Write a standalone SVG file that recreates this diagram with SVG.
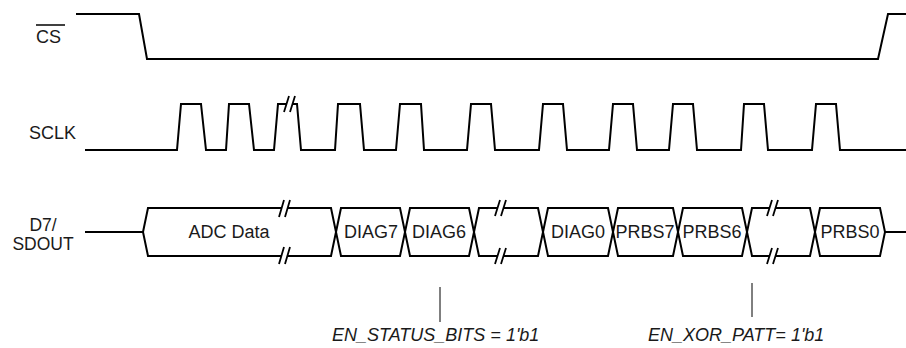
<svg xmlns="http://www.w3.org/2000/svg" width="906" height="348" viewBox="0 0 906 348">
<style>
.sig{fill:none;stroke:#000;stroke-width:2;stroke-linejoin:miter}
.brk{fill:none;stroke:#000;stroke-width:1.8}
.lbl{font-family:"Liberation Sans",Arial,sans-serif;font-size:18px;fill:#1a1a1a}
.box{font-family:"Liberation Sans",Arial,sans-serif;font-size:18px;fill:#1a1a1a;text-anchor:middle}
.sd{font-family:"Liberation Sans",Arial,sans-serif;font-size:17.5px;fill:#1a1a1a;text-anchor:middle}
.ann{font-family:"Liberation Sans",Arial,sans-serif;font-size:18px;font-style:italic;fill:#1a1a1a}
.tick{fill:none;stroke:#000;stroke-width:1}
</style>
<rect width="906" height="348" fill="#fff"/>
<g id="cs">
<text class="lbl" x="36" y="43">CS</text>
<line x1="36" y1="25" x2="65" y2="25" stroke="#000" stroke-width="1.5"/>
<path class="sig" d="M76,14 H139 L147,59 H878 L888,14 H906"/>
</g>
<g id="sclk">
<text class="lbl" x="29" y="139">SCLK</text>
<path class="sig" d="M85,150 H177 L181,104 H201 L206,150 H226 L229,104 H249 L254,150 H274 L278,104 H287 M293,104 H297 L301,150 H335 L338,104 H360 L364,150 H396 L400,104 H421 L424,150 H467 L471,104 H491 L495,150 H539 L543,104 H563 L567,150 H609 L613,104 H633 L637,150 H669 L673,104 H693 L697,150 H741 L744,104 H764 L768,150 H812 L816,104 H836 L840,150 H906"/>
<path class="brk" d="M284,112 L289,96 M290,112 L295,96"/>
</g>
<g id="sdout">
<text class="sd" x="43" y="231">D7/</text>
<text class="sd" x="43" y="250">SDOUT</text>
<path class="sig" d="M85,232 H143 M885,232 H906"/>
</g>
<g id="adc-data">
<path class="sig" d="M282,208 H148 L143,232 L148,256 H282 M288,208 H331 L336,232 L331,256 H288"/>
<path class="brk" d="M279,217 L284,200 M285,217 L290,200 M279,264 L284,247 M285,264 L290,247"/>
<text class="box" x="229" y="238">ADC Data</text>
</g>
<g id="diag7">
<path class="sig" d="M336,232 L341,208 H400 L405,232 L400,256 H341 Z"/>
<text class="box" x="371" y="238">DIAG7</text>
</g>
<g id="diag6">
<path class="sig" d="M405,232 L410,208 H469 L474,232 L469,256 H410 Z"/>
<text class="box" x="439" y="238">DIAG6</text>
</g>
<g id="diag-gap">
<path class="sig" d="M498,208 H479 L474,232 L479,256 H498 M504,208 H538 L543,232 L538,256 H504"/>
<path class="brk" d="M495,216 L500,200 M501,216 L506,200 M495,264 L500,248 M501,264 L506,248"/>
</g>
<g id="diag0">
<path class="sig" d="M543,232 L548,208 H608 L613,232 L608,256 H548 Z"/>
<text class="box" x="578" y="238">DIAG0</text>
</g>
<g id="prbs7">
<path class="sig" d="M613,232 L618,208 H673 L678,232 L673,256 H618 Z"/>
<text class="box" x="645" y="238">PRBS7</text>
</g>
<g id="prbs6">
<path class="sig" d="M678,232 L683,208 H742 L747,232 L742,256 H683 Z"/>
<text class="box" x="712" y="238">PRBS6</text>
</g>
<g id="prbs-gap">
<path class="sig" d="M770,208 H752 L747,232 L752,256 H770 M776,208 H810 L815,232 L810,256 H776"/>
<path class="brk" d="M767,216 L772,200 M773,216 L778,200 M767,264 L772,248 M773,264 L778,248"/>
</g>
<g id="prbs0">
<path class="sig" d="M815,232 L820,208 H880 L885,232 L880,256 H820 Z"/>
<text class="box" x="850" y="238">PRBS0</text>
</g>
<g id="connectors">
<line class="tick" x1="440" y1="287" x2="440" y2="322"/>
<line class="tick" x1="752" y1="283" x2="752" y2="317"/>
</g>
<g id="ann-status">
<text class="ann" x="332" y="341">EN_STATUS_BITS = 1'b1</text>
</g>
<g id="ann-xor">
<text class="ann" x="648" y="341">EN_XOR_PATT= 1'b1</text>
</g>
</svg>
